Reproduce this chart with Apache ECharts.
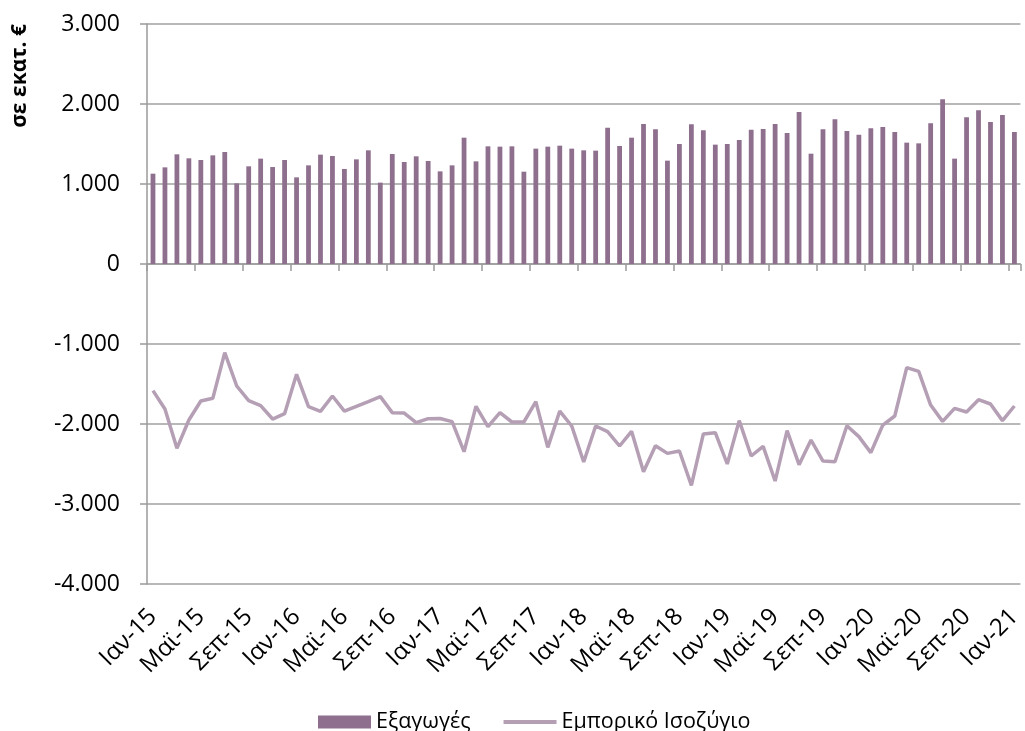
<!DOCTYPE html>
<html>
<head>
<meta charset="utf-8">
<script src="https://cdn.jsdelivr.net/npm/echarts@6/dist/echarts.min.js"></script>
<style>
html,body{margin:0;padding:0;background:#fff;}
#c{width:1025px;height:731px;}
</style>
</head>
<body>
<div id="c"></div>
<script>
const monthNames = ['Ιαν','Φεβ','Μαρ','Απρ','Μαϊ','Ιουν','Ιουλ','Αυγ','Σεπ','Οκτ','Νοε','Δεκ'];
const years = ['15','16','17','18','19','20','21'];
const categories = [];
years.forEach(y => monthNames.forEach(m => categories.push(m + '-' + y)));
categories.length = 73; // Ιαν-15 .. Ιαν-21

const exportsValues = [
  1129,1208,1371,1321,1300,1358,1400,1008,1221,1317,1212,1300,
  1083,1233,1367,1350,1188,1308,1421,1017,1375,1275,1346,1288,
  1158,1233,1579,1283,1471,1467,1471,1154,1442,1467,1479,1442,
  1421,1417,1704,1475,1579,1750,1683,1292,1500,1746,1671,1492,
  1500,1550,1679,1688,1750,1638,1900,1379,1683,1808,1663,1617,
  1696,1713,1650,1517,1508,1758,2058,1317,1833,1921,1775,1863,
  1650
];
const balanceValues = [
  -1583,-1813,-2304,-1950,-1713,-1679,-1108,-1525,-1708,-1771,-1938,-1871,
  -1379,-1783,-1842,-1650,-1838,-1779,-1721,-1658,-1858,-1863,-1983,-1933,
  -1931,-1971,-2346,-1779,-2033,-1858,-1975,-1975,-1721,-2292,-1838,-2025,
  -2475,-2025,-2096,-2275,-2092,-2596,-2271,-2367,-2338,-2767,-2125,-2108,
  -2500,-1958,-2400,-2279,-2713,-2083,-2508,-2200,-2463,-2471,-2021,-2158,
  -2358,-2013,-1900,-1296,-1342,-1763,-1967,-1804,-1850,-1696,-1750,-1958,
  -1775
];
const seriesNames = ['Εξαγωγές', 'Εμπορικό Ισοζύγιο'];
const yAxisTitle = 'σε εκατ. €';

const FONT = 'Open Sans';
const chart = echarts.init(document.getElementById('c'), null, {renderer: 'canvas'});
const fmt = v => {
  const s = Math.abs(v).toString().replace(/\B(?=(\d{3})+(?!\d))/g, '.');
  return (v < 0 ? '-' : '') + s;
};
chart.setOption({
  animation: false,
  backgroundColor: '#ffffff',
  textStyle: {fontFamily: FONT},
  grid: {left: 147, right: 2, top: 24, bottom: 147, containLabel: false},
  legend: {
    top: 706, left: 313,
    itemWidth: 53, itemHeight: 13, itemGap: 33,
    textStyle: {fontFamily: FONT, fontSize: 21.5, color: '#000'},
    data: [
      {name: seriesNames[0], icon: 'rect'},
      {name: seriesNames[1], icon: 'path://M0,0L53,0L53,4L0,4Z'}
    ]
  },
  graphic: [{
    type: 'text', left: 10, top: 24, rotation: Math.PI / 2,
    style: {text: yAxisTitle, fontFamily: FONT, fontWeight: 'bold', fontSize: 21, fill: '#000'}
  }],
  xAxis: [{
    type: 'category', data: categories, boundaryGap: true,
    axisLine: {onZero: true, lineStyle: {color: '#9a9a9a', width: 1.5}},
    axisTick: {show: true, interval: 3, length: 7, lineStyle: {color: '#9a9a9a', width: 1.5}},
    axisLabel: {show: false},
    splitLine: {show: false}
  }, {
    type: 'category', data: categories, boundaryGap: true, position: 'bottom',
    axisLine: {show: false, onZero: false},
    axisTick: {show: false},
    axisLabel: {show: true, interval: 3, rotate: 45, margin: 29, fontFamily: FONT, fontSize: 24, color: '#000'},
    splitLine: {show: false}
  }],
  yAxis: {
    type: 'value', min: -4000, max: 3000, interval: 1000,
    axisLine: {show: true, lineStyle: {color: '#9a9a9a', width: 1.5}},
    axisTick: {show: true, length: 7, lineStyle: {color: '#9a9a9a', width: 1.5}},
    axisLabel: {margin: 27, fontFamily: FONT, fontSize: 23, color: '#000', formatter: fmt},
    splitLine: {show: true, lineStyle: {color: '#a0a0a0', width: 1.5}}
  },
  series: [{
    name: seriesNames[0], type: 'bar', data: exportsValues, xAxisIndex: 0,
    barWidth: '40%', itemStyle: {color: '#8E6F8E'}
  }, {
    name: seriesNames[1], type: 'line', data: balanceValues, xAxisIndex: 0,
    symbol: 'none', lineStyle: {color: '#B59FB5', width: 3.5}, itemStyle: {color: '#B59FB5'}
  }]
});
</script>
</body>
</html>
